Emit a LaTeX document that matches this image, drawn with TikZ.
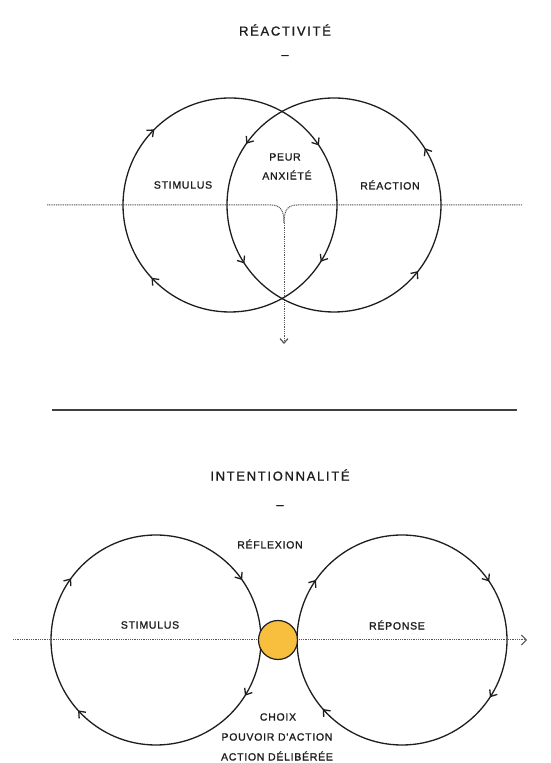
\documentclass[tikz,border=0pt]{standalone}
\usepackage{fontspec}
\newfontfamily\hand[LetterSpace=7,FakeBold=1.2]{Liberation Sans}
\newfontfamily\handtitle[LetterSpace=13,FakeBold=1.2]{Liberation Sans}
\usetikzlibrary{arrows.meta,decorations.markings}
\definecolor{ink}{HTML}{1E1E1E}
\definecolor{gold}{HTML}{F8BE3E}
\tikzset{
  barb/.tip={Straight Barb[length=5.5pt,width=9pt,line width=1.3pt]},
  ring/.style={draw=ink, line width=1.3pt},
  lbl/.style={font=\hand\fontsize{10.5}{12.5}\selectfont, text=ink, inner sep=1pt, align=center},
  ttl/.style={font=\handtitle\fontsize{13}{15}\selectfont, text=ink, inner sep=1pt},
  dotline/.style={draw=ink!75, line width=1pt, dash pattern=on 1pt off 0.8pt},
  marks4/.style n args={4}{postaction={decorate}, decoration={markings,
    mark=at position #1 with {\arrow{barb}},
    mark=at position #2 with {\arrow{barb}},
    mark=at position #3 with {\arrow{barb}},
    mark=at position #4 with {\arrow{barb}}}}
}
\begin{document}
\begin{tikzpicture}[x=1pt,y=1pt]
\useasboundingbox[fill=white] (0,0) rectangle (550,763);

% ---------- Top: Réactivité ----------
\node[ttl] (t1) at (285,733) {RÉACTIVITÉ};
\node[ttl] (d1) at (285,706) {–};

\coordinate (cl) at (230,558);
\coordinate (cr) at (334,558);

% dotted horizontal with Y junction
\coordinate (hl) at (47,558);
\coordinate (hr) at (522,558);
\coordinate (jn) at (284,540);
\coordinate (down) at (284,419);
\draw[dotline] (hl) -- (271,558) .. controls (281,558) and (284,552) .. (jn);
\draw[dotline] (hr) -- (297,558) .. controls (287,558) and (284,552) .. (jn);
\draw[dotline, -{Straight Barb[length=4.5pt,width=8pt,line width=1.2pt]}] (jn) -- (down);

% circles
\draw[ring, marks4={0.089}{0.381}{0.625}{0.906}]
  (cl) ++(0:107) arc[start angle=0, end angle=-360, radius=107];
\draw[ring, marks4={0.089}{0.403}{0.592}{0.894}]
  (cr) ++(0:107) arc[start angle=0, end angle=360, radius=107];

\node[lbl] (s1) at (183,578) {STIMULUS};
\node[lbl] (p1) at (285,606) {PEUR};
\node[lbl] (a1) at (287,588) {ANXIÉTÉ};
\node[lbl] (r1) at (390,578) {RÉACTION};

% separator
\coordinate (sepL) at (52,353);
\coordinate (sepR) at (517,353);
\draw[ink!85, line width=1.5pt] (sepL) -- (sepR);

% ---------- Bottom: Intentionnalité ----------
\node[ttl] (t2) at (280,288) {INTENTIONNALITÉ};
\node[ttl] (d2) at (280,256) {–};
\node[lbl] (rf) at (270,219) {RÉFLEXION};

\coordinate (bl) at (156,123);
\coordinate (br) at (402,123);
\coordinate (ll) at (13,123);
\coordinate (lr) at (527,123);
\draw[dotline, -{Straight Barb[length=5pt,width=10pt,line width=1pt]}] (ll) -- (lr);

\draw[ring, marks4={0.089}{0.383}{0.600}{0.903}]
  (bl) ++(0:105) arc[start angle=0, end angle=-360, radius=105];
\draw[ring, marks4={0.092}{0.386}{0.597}{0.906}]
  (br) ++(0:105) arc[start angle=0, end angle=-360, radius=105];

\node[circle, draw=ink, line width=1.2pt, fill=gold, minimum size=39pt, inner sep=0pt] (gc) at (278,123) {};

\node[lbl] (s2) at (150,138) {STIMULUS};
\node[lbl] (rp) at (397,138) {RÉPONSE};
\node[lbl] (ch) at (278,46) {CHOIX};
\node[lbl] (pa) at (277,26) {POUVOIR D'ACTION};
\node[lbl] (ad) at (277,7) {ACTION DÉLIBÉRÉE};
\end{tikzpicture}
\end{document}
